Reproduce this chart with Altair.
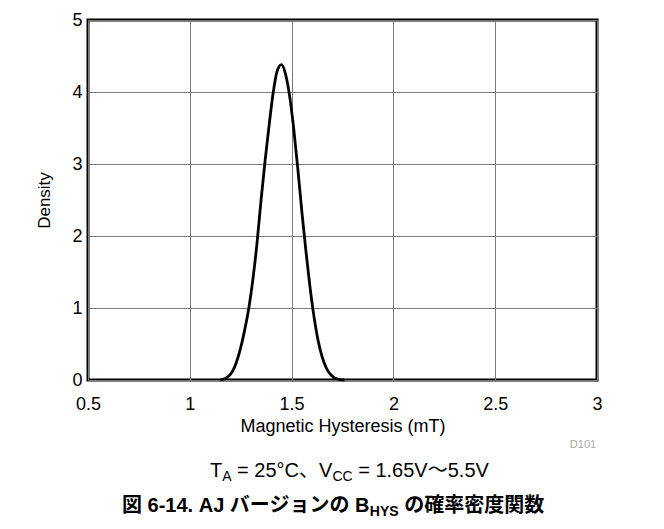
import altair as alt
import pandas as pd

# Curve (Magnetic Hysteresis in mT vs density)
hysteresis = [1.15, 1.18, 1.20, 1.22, 1.25, 1.27, 1.29, 1.31, 1.33, 1.35, 1.37, 1.39,
              1.41, 1.43, 1.45, 1.47, 1.49, 1.51, 1.53, 1.55, 1.57, 1.59, 1.61, 1.63,
              1.65, 1.67, 1.69, 1.71, 1.74, 1.76]
density = [0.0, 0.03, 0.08, 0.18, 0.45, 0.70, 1.0, 1.4, 1.9, 2.5, 3.05, 3.55,
           4.0, 4.3, 4.38, 4.25, 3.95, 3.5, 2.95, 2.35, 1.8, 1.3, 0.88, 0.55,
           0.32, 0.17, 0.08, 0.03, 0.005, 0.0]

x_ticks = [0.5, 1, 1.5, 2, 2.5, 3]
y_ticks = [0, 1, 2, 3, 4, 5]

x_title = "Magnetic Hysteresis (mT)"
y_title = "Density"
code_label = "D101"

# condition line pieces
cond_pieces = ["T", "A", "= 25°C、V", "CC", "= 1.65V〜5.5V"]
cond_sub = [False, True, False, True, False]
# caption pieces
cap_pieces = ["図 6-14. AJ バージョンの B", "HYS", "の確率密度関数"]
cap_sub = [False, True, False]

FONT = "Liberation Sans, Arial, Noto Sans CJK JP"

df = pd.DataFrame({"x": hysteresis, "y": density})

W, H = 509, 360

line = alt.Chart(df).mark_line(color="black", strokeWidth=2.8, interpolate="monotone").encode(
    x=alt.X("x:Q", scale=alt.Scale(domain=[0.5, 3], nice=False, zero=False),
            axis=alt.Axis(values=x_ticks, format="~g", title=x_title,
                          labelPadding=15, titlePadding=4, titleFontSize=18,
                          labelFlush=False, labelOverlap=False)),
    y=alt.Y("y:Q", scale=alt.Scale(domain=[0, 5], nice=False),
            axis=alt.Axis(values=y_ticks, title=y_title, labelPadding=6, titlePadding=18,
                          labelOverlap=False)),
)

one = alt.Data(values=[{"a": 1}])


def text_at(txt, px, py, size, color="black", weight="normal", align="left", baseline="alphabetic"):
    return alt.Chart(one).mark_text(
        font=FONT, fontSize=size, fontWeight=weight, color=color, align=align, baseline=baseline
    ).encode(x=alt.value(px), y=alt.value(py), text=alt.value(txt))


layers = [line]

# D101 code
layers.append(text_at(code_label, 495, 428, 11, color="#aaaaaa", align="center"))

# Conditions line (approx Arial widths, 20px main / 14px subscript)
cond_x = [122, 134.2, 149.1, 244.4, 270.2]
base_cond = 457
for t, s, px in zip(cond_pieces, cond_sub, cond_x):
    layers.append(text_at(t, px, base_cond + (4 if s else 0), 14 if s else 20))

# Caption (bold)
cap_x = [34, 281.8, 316.2]
base_cap = 492
for t, s, px in zip(cap_pieces, cap_sub, cap_x):
    layers.append(text_at(t, px, base_cap + (4 if s else 0), 14 if s else 20, weight="bold"))

chart = alt.layer(*layers).properties(
    width=W, height=H,
    autosize=alt.AutoSizeParams(type="none"),
    padding={"left": 80, "top": 12, "right": 59, "bottom": 141},
).configure_view(
    stroke="black", strokeWidth=3
).configure_axis(
    domain=False, ticks=False, grid=True, gridColor="#7a7a7a", gridWidth=1,
    labelFont=FONT, labelFontSize=18, labelColor="black",
    titleFont=FONT, titleFontSize=17, titleFontWeight="normal", titleColor="black",
)

chart.save("out.html", embed_options={"renderer": "svg", "actions": False})
